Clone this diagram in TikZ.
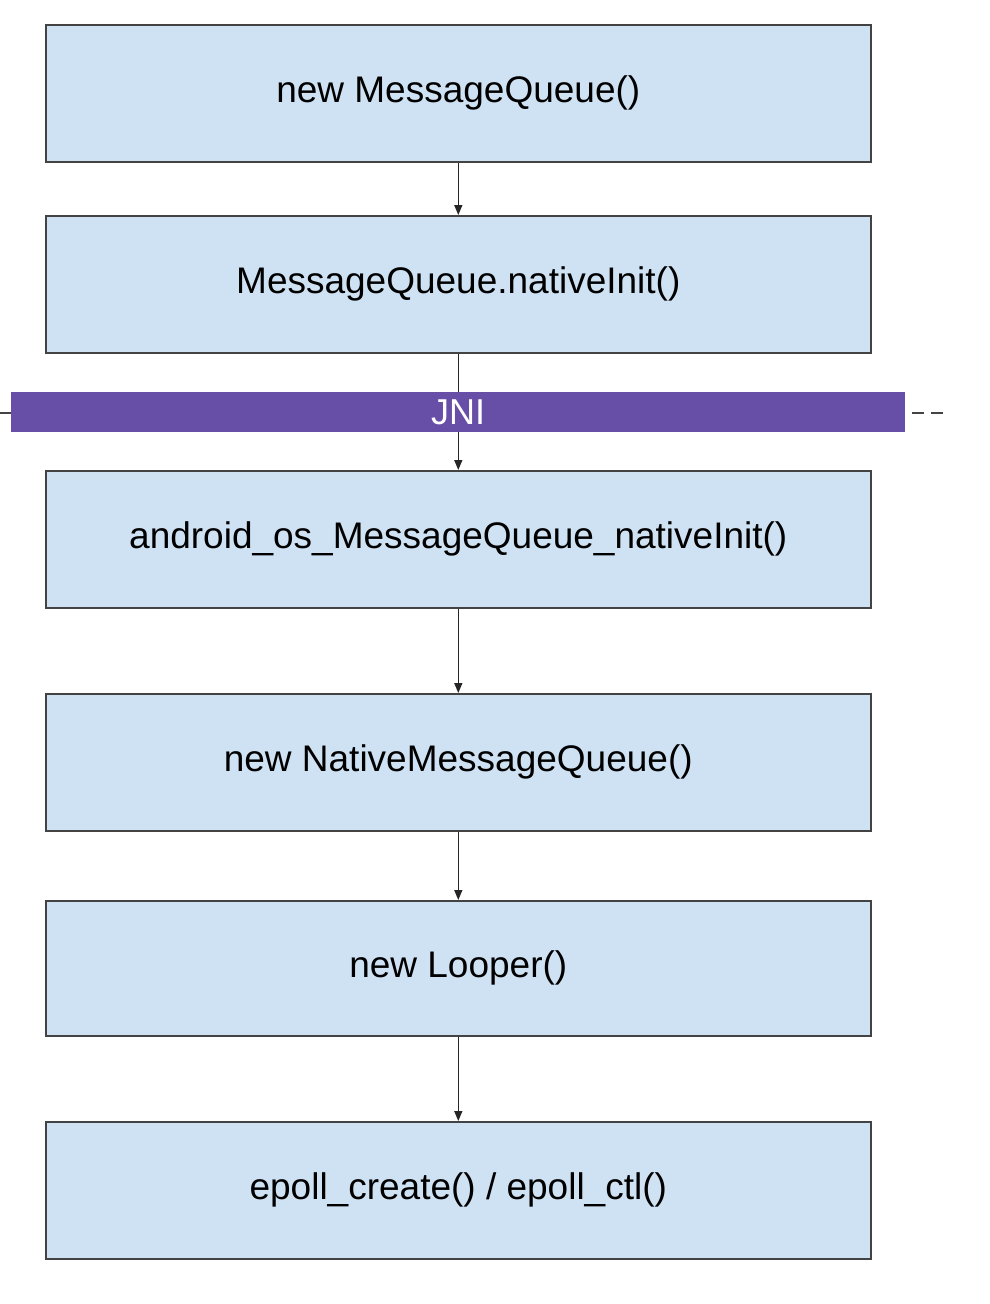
\documentclass[tikz,border=0pt]{standalone}
\usepackage{fontspec}
\setmainfont{Liberation Sans}
\usetikzlibrary{arrows.meta}
\definecolor{boxfill}{HTML}{CFE2F3}
\definecolor{boxline}{HTML}{434343}
\definecolor{jni}{HTML}{674EA7}
\tikzset{
  stepbox/.style={draw=boxline, line width=1.6pt, fill=boxfill, minimum width=825pt, minimum height=137pt, inner sep=0pt, font=\fontsize{37pt}{42pt}\selectfont, anchor=north west},
  conn/.style={draw=black!85, line width=1.4pt, -{Triangle[length=10pt,width=8pt]}},
}
\begin{document}
\begin{tikzpicture}[x=1pt,y=-1pt]
\useasboundingbox[fill=white] (0,0) rectangle (990,1304);
\node[stepbox] (b1) at (45,24) {new MessageQueue()};
\node[stepbox] (b2) at (45,215) {MessageQueue.nativeInit()};
\node[stepbox] (b3) at (45,470) {android\_os\_MessageQueue\_nativeInit()};
\node[stepbox] (b4) at (45,693) {new NativeMessageQueue()};
\node[stepbox, minimum height=135pt] (b5) at (45,900) {new Looper()};
\node[stepbox] (b6) at (45,1121) {epoll\_create() / epoll\_ctl()};
\coordinate (dl) at (0,413);
\coordinate (dr) at (945,413);
\draw[draw=boxline, line width=1.5pt, dash pattern=on 12pt off 7pt] (dl) -- (dr);
\draw[conn] (b1.south) -- (b2.north);
\draw[conn] (b2.south) -- (b3.north);
\node[fill=jni, minimum width=894pt, minimum height=40pt, inner sep=0pt, anchor=north west, text=white, font=\fontsize{36pt}{40pt}\selectfont] (jnibar) at (11,392) {JNI};
\draw[conn] (b3.south) -- (b4.north);
\draw[conn] (b4.south) -- (b5.north);
\draw[conn] (b5.south) -- (b6.north);
\end{tikzpicture}
\end{document}
